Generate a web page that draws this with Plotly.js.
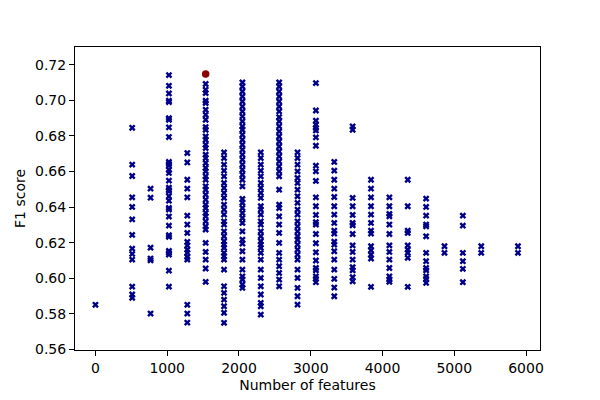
<!DOCTYPE html>
<html>
<head>
<meta charset="utf-8">
<script src="https://cdn.plot.ly/plotly-3.0.1.min.js"></script>
<style>html,body{margin:0;padding:0;background:#fff;}#chart{width:600px;height:400px;}</style>
</head>
<body>
<div id="chart"></div>
<script>
// Number of features for each column of runs
const featureCounts = [0, 512, 768, 1024, 1280, 1536, 1792, 2048, 2304, 2560, 2816, 3072, 3328, 3584, 3840, 4096, 4352, 4608, 4864, 5120, 5376, 5888];

// F1 scores observed at each feature count
const f1_0 = [0.5851];
const f1_512 = [0.6846, 0.6639, 0.6575, 0.6455, 0.6401, 0.6331, 0.6244, 0.6167, 0.6137, 0.6105, 0.5953, 0.5909, 0.5890];
const f1_768 = [0.6504, 0.6453, 0.6172, 0.6111, 0.6101, 0.5802];
const f1_1024 = [0.7142, 0.7082, 0.7039, 0.6998, 0.6990, 0.6900, 0.6891, 0.6848, 0.6794, 0.6654, 0.6643, 0.6633, 0.6609, 0.6592, 0.6549, 0.6509, 0.6497, 0.6489, 0.6461, 0.6436, 0.6395, 0.6386, 0.6347, 0.6296, 0.6242, 0.6233, 0.6154, 0.6143, 0.6133, 0.6043, 0.5953];
const f1_1280 = [0.6704, 0.6651, 0.6554, 0.6504, 0.6455, 0.6352, 0.6302, 0.6255, 0.6204, 0.6184, 0.6161, 0.6143, 0.6120, 0.6105, 0.5851, 0.5802, 0.5751];
const f1_1536 = [0.7092, 0.7060, 0.7041, 0.6998, 0.6985, 0.6947, 0.6919, 0.6891, 0.6850, 0.6835, 0.6797, 0.6779, 0.6751, 0.6732, 0.6695, 0.6676, 0.6648, 0.6620, 0.6601, 0.6573, 0.6554, 0.6517, 0.6498, 0.6470, 0.6442, 0.6414, 0.6395, 0.6367, 0.6348, 0.6320, 0.6292, 0.6274, 0.6199, 0.6148, 0.6105, 0.6055, 0.5980];
const f1_1792 = [0.6708, 0.6676, 0.6639, 0.6605, 0.6573, 0.6536, 0.6508, 0.6480, 0.6452, 0.6414, 0.6386, 0.6358, 0.6320, 0.6302, 0.6264, 0.6236, 0.6208, 0.6189, 0.6171, 0.6143, 0.6124, 0.6105, 0.6049, 0.5955, 0.5918, 0.5880, 0.5843, 0.5806, 0.5750];
const f1_2048 = [0.7101, 0.7078, 0.7050, 0.7022, 0.6994, 0.6966, 0.6938, 0.6910, 0.6882, 0.6854, 0.6835, 0.6807, 0.6779, 0.6751, 0.6723, 0.6695, 0.6667, 0.6639, 0.6610, 0.6582, 0.6554, 0.6517, 0.6446, 0.6424, 0.6395, 0.6367, 0.6339, 0.6311, 0.6264, 0.6217, 0.6195, 0.6152, 0.6105, 0.6049, 0.6011, 0.5993, 0.5965, 0.5946];
const f1_2304 = [0.6708, 0.6676, 0.6639, 0.6605, 0.6573, 0.6536, 0.6508, 0.6480, 0.6452, 0.6405, 0.6386, 0.6358, 0.6320, 0.6302, 0.6264, 0.6236, 0.6208, 0.6189, 0.6171, 0.6143, 0.6105, 0.6049, 0.6002, 0.5955, 0.5909, 0.5862, 0.5843, 0.5796];
const f1_2560 = [0.7101, 0.7078, 0.7050, 0.7022, 0.6994, 0.6966, 0.6938, 0.6906, 0.6882, 0.6854, 0.6826, 0.6797, 0.6769, 0.6741, 0.6713, 0.6685, 0.6657, 0.6629, 0.6601, 0.6573, 0.6498, 0.6414, 0.6395, 0.6348, 0.6302, 0.6255, 0.6199, 0.6143, 0.6105, 0.6068, 0.6030, 0.5993, 0.5955];
const f1_2816 = [0.6708, 0.6676, 0.6639, 0.6601, 0.6564, 0.6536, 0.6498, 0.6461, 0.6424, 0.6386, 0.6358, 0.6320, 0.6292, 0.6264, 0.6236, 0.6217, 0.6189, 0.6161, 0.6133, 0.6105, 0.6049, 0.6002, 0.5946, 0.5899, 0.5852];
const f1_3072 = [0.7097, 0.6943, 0.6886, 0.6863, 0.6845, 0.6831, 0.6792, 0.6745, 0.6633, 0.6601, 0.6547, 0.6455, 0.6405, 0.6356, 0.6315, 0.6302, 0.6249, 0.6197, 0.6146, 0.6100, 0.6058, 0.6045, 0.6011, 0.5997, 0.5978];
const f1_3328 = [0.6654, 0.6605, 0.6554, 0.6504, 0.6457, 0.6405, 0.6358, 0.6311, 0.6268, 0.6251, 0.6206, 0.6189, 0.6152, 0.6105, 0.6049, 0.5997, 0.5948, 0.5899];
const f1_3584 = [0.6854, 0.6835, 0.6452, 0.6405, 0.6356, 0.6311, 0.6298, 0.6249, 0.6185, 0.6148, 0.6105, 0.6062, 0.6045, 0.6006, 0.5983];
const f1_3840 = [0.6554, 0.6504, 0.6455, 0.6405, 0.6358, 0.6311, 0.6268, 0.6251, 0.6180, 0.6157, 0.6133, 0.6111, 0.5952];
const f1_4096 = [0.6455, 0.6405, 0.6362, 0.6348, 0.6302, 0.6249, 0.6185, 0.6148, 0.6105, 0.6058, 0.6011, 0.5993, 0.5980];
const f1_4352 = [0.6554, 0.6405, 0.6268, 0.6255, 0.6185, 0.6161, 0.6143, 0.6115, 0.5952];
const f1_4608 = [0.6448, 0.6401, 0.6352, 0.6302, 0.6292, 0.6236, 0.6143, 0.6096, 0.6058, 0.6045, 0.6011, 0.5997, 0.5974];
const f1_4864 = [0.6180, 0.6143];
const f1_5120 = [0.6352, 0.6296, 0.6143, 0.6096, 0.6053, 0.5978];
const f1_5376 = [0.6180, 0.6143];
const f1_5888 = [0.6180, 0.6143];

// Best run (highlighted)
const bestFeatures = [1536];
const bestF1 = [0.7148];

const scoreColumns = [f1_0, f1_512, f1_768, f1_1024, f1_1280, f1_1536, f1_1792, f1_2048, f1_2304, f1_2560, f1_2816, f1_3072, f1_3328, f1_3584, f1_3840, f1_4096, f1_4352, f1_4608, f1_4864, f1_5120, f1_5376, f1_5888];

const xs = [], ys = [];
featureCounts.forEach((n, i) => {
  scoreColumns[i].forEach(v => { xs.push(n); ys.push(v); });
});

const font = {family: 'DejaVu Sans, sans-serif', size: 14, color: '#000'};

const traces = [
  {x: xs, y: ys, type: 'scatter', mode: 'markers',
   marker: {symbol: 'x', color: '#00008B', size: 6, line: {width: 0}}, hoverinfo: 'x+y'},
  {x: bestFeatures, y: bestF1, type: 'scatter', mode: 'markers',
   marker: {symbol: 'circle', color: '#8B0000', size: 7.5, line: {width: 0}}}
];

const axisCommon = {
  showline: true, mirror: true, linecolor: '#000', linewidth: 1,
  ticks: 'outside', ticklen: 5, tickwidth: 1, tickcolor: '#000',
  showgrid: false, zeroline: false, tickfont: font
};

const layout = {
  width: 600, height: 400,
  margin: {l: 75, r: 60, t: 47, b: 50},
  paper_bgcolor: '#fff', plot_bgcolor: '#fff',
  showlegend: false,
  font: font,
  xaxis: Object.assign({}, axisCommon, {
    range: [-285, 6195], tickmode: 'linear', tick0: 0, dtick: 1000,
    title: {text: 'Number of features', font: font, standoff: 5}
  }),
  yaxis: Object.assign({}, axisCommon, {
    range: [0.5597, 0.7300], tickmode: 'linear', tick0: 0.56, dtick: 0.02, tickformat: '.2f',
    title: {text: 'F1 score', font: font, standoff: 6}
  })
};

Plotly.newPlot('chart', traces, layout, {displayModeBar: false, staticPlot: true});
</script>
</body>
</html>
